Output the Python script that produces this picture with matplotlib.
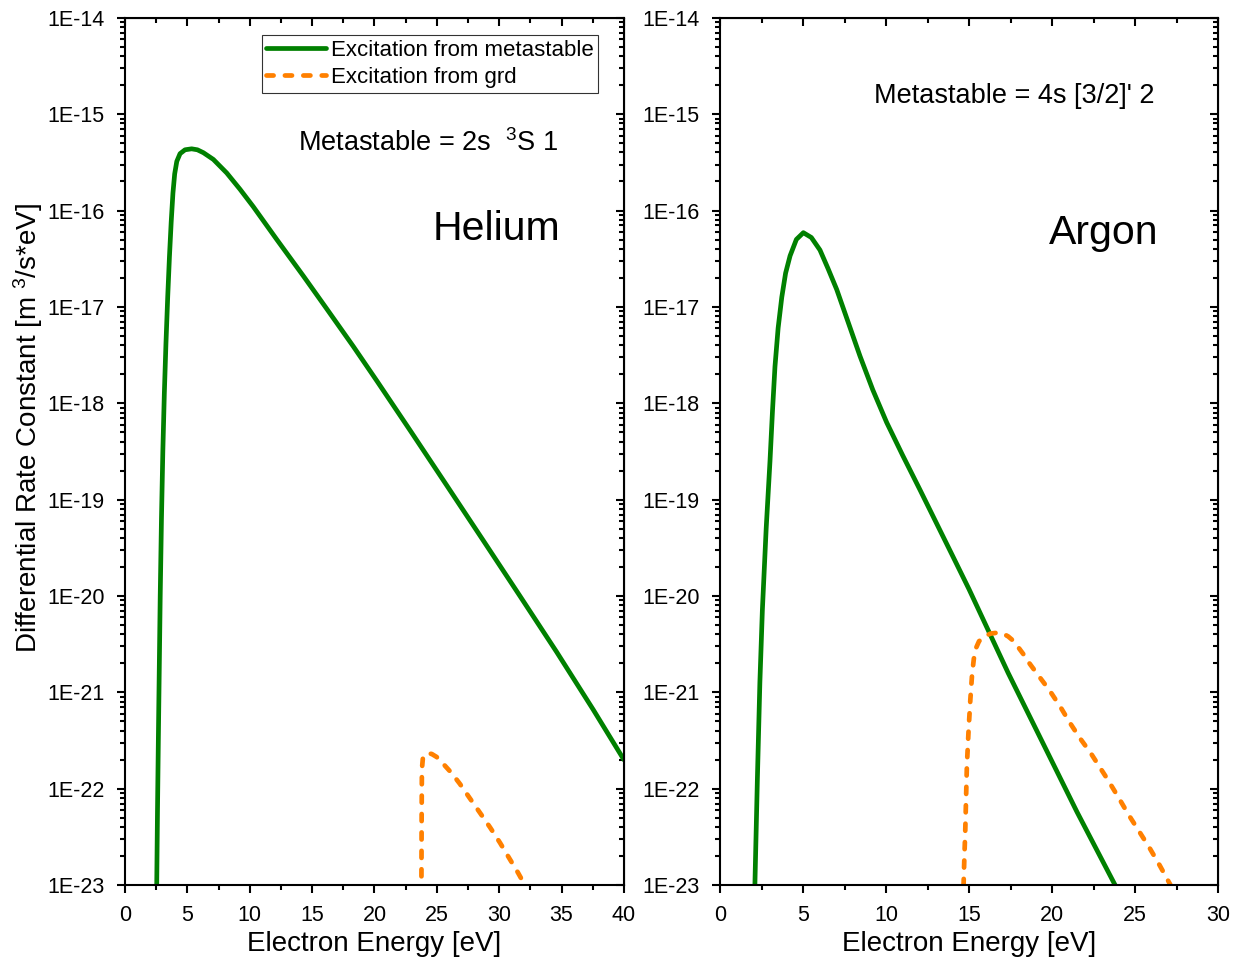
import numpy as np
import matplotlib.pyplot as plt
from matplotlib.ticker import FixedLocator, FuncFormatter, NullFormatter

plt.rcParams['font.family'] = ['Liberation Sans', 'DejaVu Sans']
plt.rcParams['mathtext.default'] = 'regular'

# Helium, excitation from metastable (energy eV, log10 of rate)
he_meta_e = [2.48, 2.54, 2.60, 2.67, 2.74, 2.82, 2.92, 3.03, 3.15, 3.28, 3.42, 3.56,
             3.70, 3.84, 3.98, 4.15, 4.41, 4.81, 5.34, 5.8, 6.28, 7.08, 8.15, 9.22,
             10.28, 12.16, 14.30, 16.17, 18.30, 20.2, 22.9, 25.78, 28.7, 31.66, 34.6,
             37.54, 40.0]
he_meta_log = [-23.4, -23.0, -22.25, -21.50, -20.80, -20.0, -19.2, -18.5, -17.9,
               -17.38, -16.90, -16.48, -16.12, -15.82, -15.62, -15.49, -15.41, -15.37,
               -15.36, -15.37, -15.40, -15.47, -15.61, -15.78, -15.96, -16.30, -16.68,
               -17.02, -17.41, -17.77, -18.29, -18.85, -19.42, -20.0, -20.58, -21.18,
               -21.70]

# Helium, excitation from ground
he_grd_e = [23.76, 23.78, 23.80, 23.88, 24.05, 24.3, 24.6, 24.98, 25.5, 26.2, 26.85,
            27.65, 28.46, 29.26, 30.06, 30.8, 31.5, 32.06, 32.3]
he_grd_log = [-23.1, -22.3, -21.8, -21.68, -21.64, -21.63, -21.64, -21.67, -21.74,
              -21.84, -21.95, -22.10, -22.25, -22.40, -22.56, -22.72, -22.87, -23.0,
              -23.06]

# Argon, excitation from metastable
ar_meta_e = [2.07, 2.10, 2.25, 2.40, 2.55, 2.78, 3.01, 3.16, 3.31, 3.50, 3.72, 3.95,
             4.22, 4.6, 5.02, 5.5, 6.02, 6.5, 7.03, 7.7, 8.43, 9.2, 10.04, 11.0,
             12.05, 14.0, 15.0, 17.36, 19.43, 21.5, 23.89, 24.2]
ar_meta_log = [-23.2, -23.0, -21.9, -20.9, -20.15, -19.3, -18.6, -18.08, -17.62,
               -17.22, -16.90, -16.65, -16.47, -16.30, -16.23, -16.28, -16.41, -16.60,
               -16.82, -17.15, -17.51, -17.86, -18.20, -18.54, -18.90, -19.58, -19.93,
               -20.80, -21.52, -22.24, -23.03, -23.13]

# Argon, excitation from ground
ar_grd_e = [14.65, 14.67, 14.72, 14.77, 14.82, 14.87, 14.97, 15.08, 15.18, 15.29,
            15.42, 15.6, 15.91, 16.3, 16.74, 17.05, 17.36, 17.7, 18.0, 18.3, 18.60,
            19.2, 19.85, 20.5, 21.09, 21.7, 22.33, 22.85, 23.37, 24.0, 24.61, 25.2,
            25.86, 26.5, 27.2, 27.4]
ar_grd_log = [-23.2, -23.0, -22.7, -22.45, -22.1, -21.76, -21.4, -21.07, -20.82,
              -20.65, -20.54, -20.47, -20.42, -20.39, -20.38, -20.39, -20.42, -20.47,
              -20.54, -20.61, -20.69, -20.83, -20.98, -21.15, -21.32, -21.48, -21.63,
              -21.77, -21.91, -22.09, -22.27, -22.43, -22.61, -22.80, -23.02, -23.08]

decades = np.arange(-23, -13)
GREEN = '#008000'
ORANGE = '#ff8000'


def fmt_log(v, p):
  return "1E%d" % int(round(np.log10(v)))


def set_ticks(axis, major, minor):
  axis.set_major_locator(FixedLocator(major))
  axis.set_minor_locator(FixedLocator(minor))


def style_axes(ax, xmax):
  ymajor = 10.0 ** decades
  yminor = [m * 10.0 ** d for d in decades[:-1] for m in range(2, 10)]
  xmajor = np.arange(0, xmax + 0.1, 5)
  xminor = np.arange(2.5, xmax, 5)
  ax.set_yscale('log')
  ax.set_ylim(1e-23, 1e-14)
  ax.set_xlim(0, xmax)
  set_ticks(ax.xaxis, xmajor, xminor)
  set_ticks(ax.yaxis, ymajor, yminor)
  ax.yaxis.set_major_formatter(FuncFormatter(fmt_log))
  ax.yaxis.set_minor_formatter(NullFormatter())
  ax.xaxis.set_major_formatter(FuncFormatter(lambda v, p: "%d" % v))
  for s in ax.spines.values():
    s.set_linewidth(1.5)
  ax.tick_params(which='both', direction='out', width=1.5, labelsize=15.5,
                 top=False, right=False)
  ax.tick_params(which='major', length=6)
  ax.tick_params(which='minor', length=3.5)
  ax.tick_params(axis='x', pad=8)
  ax.tick_params(axis='y', pad=8.5)
  # inward ticks on top and right
  tx = ax.secondary_xaxis('top')
  set_ticks(tx.xaxis, xmajor, xminor)
  tx.xaxis.set_major_formatter(NullFormatter())
  tx.tick_params(which='both', direction='in', width=1.5, labeltop=False)
  tx.tick_params(which='major', length=6)
  tx.tick_params(which='minor', length=3.5)
  ry = ax.secondary_yaxis('right')
  set_ticks(ry.yaxis, ymajor, yminor)
  ry.yaxis.set_major_formatter(NullFormatter())
  ry.yaxis.set_minor_formatter(NullFormatter())
  ry.tick_params(which='both', direction='in', width=1.5, labelright=False)
  ry.tick_params(which='major', length=6)
  ry.tick_params(which='minor', length=3.5)
  ax.set_xlabel('Electron Energy [eV]', fontsize=20, labelpad=4)


fig = plt.figure(figsize=(12.38, 9.6), dpi=100)
ax1 = fig.add_axes([0.101, 0.078, 0.403, 0.9035])
ax2 = fig.add_axes([0.5816, 0.078, 0.4023, 0.9035])

dash = (1.5, 2.4)
ax1.plot(he_meta_e, 10.0 ** np.array(he_meta_log), color=GREEN, lw=3.4,
         solid_capstyle='round', solid_joinstyle='round', label='Excitation from metastable')
ax1.plot(he_grd_e, 10.0 ** np.array(he_grd_log), color=ORANGE, lw=3.4,
         dashes=dash, dash_capstyle='round', label='Excitation from grd')
ax2.plot(ar_meta_e, 10.0 ** np.array(ar_meta_log), color=GREEN, lw=3.4,
         solid_capstyle='round', solid_joinstyle='round')
ax2.plot(ar_grd_e, 10.0 ** np.array(ar_grd_log), color=ORANGE, lw=3.4,
         dashes=dash, dash_capstyle='round')

style_axes(ax1, 40)
style_axes(ax2, 30)
ax1.set_ylabel(r'Differential Rate Constant [m $^{3}$/s*eV]', fontsize=20)
ax1.yaxis.set_label_coords(-0.160, 0.527)

leg = ax1.legend(loc='upper right', bbox_to_anchor=(0.948, 0.980), fontsize=16,
                 frameon=True, fancybox=False, handlelength=2.7, handletextpad=0.2,
                 borderpad=0.2, labelspacing=0.3, borderaxespad=0)
leg.get_frame().set_edgecolor('black')
leg.get_frame().set_linewidth(0.8)

ax1.text(0.607, 0.856, r'Metastable = 2s  $^{3}$S 1', transform=ax1.transAxes,
         fontsize=19.5, ha='center', va='center')
ax1.text(0.745, 0.757, 'Helium', transform=ax1.transAxes, fontsize=29.5,
         ha='center', va='center')
ax2.text(0.590, 0.910, "Metastable = 4s [3/2]' 2", transform=ax2.transAxes,
         fontsize=19.5, ha='center', va='center')
ax2.text(0.771, 0.752, 'Argon', transform=ax2.transAxes, fontsize=29.5,
         ha='center', va='center')

fig.savefig('out.png', dpi=100)
